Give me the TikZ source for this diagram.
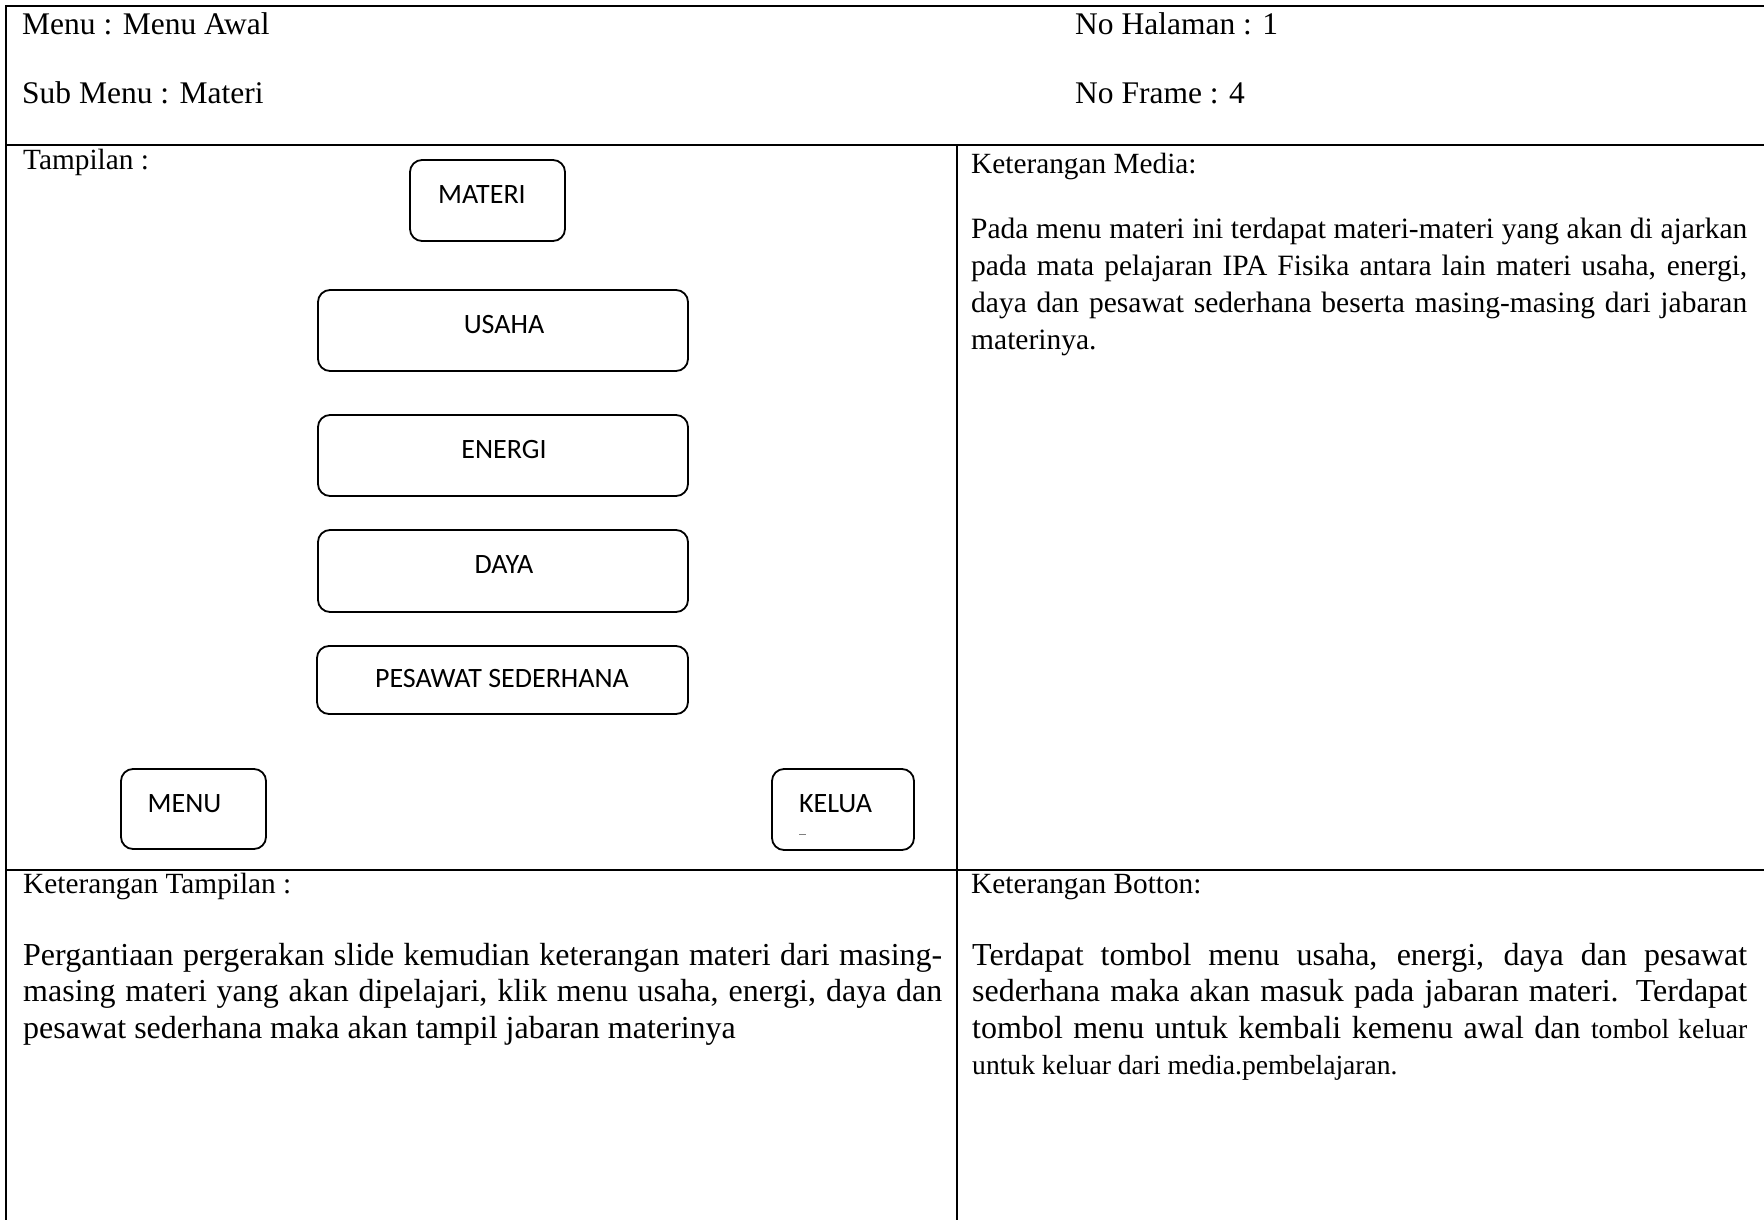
\documentclass[tikz,border=0pt]{standalone}
\usepackage{fontspec}
\setmainfont{Liberation Serif}
\newfontfamily\btnfont{Carlito}
\begin{document}
\begin{tikzpicture}[x=1pt,y=-1pt,
  frame/.style={line width=2.2pt,black},
  btnbox/.style={draw,line width=1.8pt,rounded corners=12pt,inner sep=0pt,minimum width=#1},
  btntext/.style={anchor=base,inner sep=0pt,font=\btnfont\fontsize{28}{34}\selectfont},
  head/.style={anchor=base west,inner sep=0pt,font=\fontsize{31.5}{36}\selectfont},
  label/.style={anchor=base west,inner sep=0pt,font=\fontsize{29.3}{36}\selectfont},
  body/.style={anchor=base west,inner sep=0pt,font=\fontsize{29.5}{36}\selectfont},
  bigbody/.style={anchor=base west,inner sep=0pt,font=\fontsize{32}{37}\selectfont}]
\useasboundingbox (0,0) rectangle (1764,1220);
\fill[white] (0,0) rectangle (1764,1220);

% table rules
\draw[frame] (6,1222) -- (6,6) -- (1766,6);
\draw[frame] (6,145) -- (1766,145);
\draw[frame] (6,870) -- (1766,870);
\draw[frame] (957,145) -- (957,1222);

% header
\node[head] (menu) at (22,35) {Menu : Menu Awal};
\node[head] (submenu) at (22,104) {Sub Menu : Materi};
\node[head] (hal) at (1075,35) {No Halaman : 1};
\node[head] (frameno) at (1075,104) {No Frame : 4};

% screen layout
\node[label] (tampilan) at (23,169) {Tampilan :};

\node[btnbox=155pt,minimum height=81pt] (bmateri) at (487.5,200.5) {};
\node[btnbox=370pt,minimum height=81pt] (busaha) at (503,330.5) {};
\node[btnbox=370pt,minimum height=81pt] (benergi) at (503,455.5) {};
\node[btnbox=370pt,minimum height=82pt] (bdaya) at (503,571) {};
\node[btnbox=371pt,minimum height=68pt] (bpesawat) at (502.5,680) {};
\node[btnbox=145pt,minimum height=80pt] (bmenu) at (193.5,809) {};
\node[btnbox=142pt,minimum height=81pt] (bkeluar) at (843,809.5) {};

\node[btntext] (tmateri) at (482,203) {MATERI};
\node[btntext] (tusaha) at (504,333) {USAHA};
\node[btntext] (tenergi) at (504,458) {ENERGI};
\node[btntext] (tdaya) at (504,573) {DAYA};
\node[btntext] (tpesawat) at (502,687) {PESAWAT SEDERHANA};
\node[btntext] (tmenu) at (184.5,812) {MENU};
\node[btntext] (tkeluar) at (835.5,812) {KELUA};
\draw[gray,line width=1pt] (799,834) -- (806,834);

% media description
\node[label] (kmedia) at (971,173) {Keterangan Media:};
\node[body] (media1) at (971,238) {\makebox[776pt][s]{Pada menu materi ini terdapat materi-materi yang akan di ajarkan}};
\node[body] (media2) at (971,275) {\makebox[776pt][s]{pada mata pelajaran IPA Fisika antara lain materi usaha, energi,}};
\node[body] (media3) at (971,312) {\makebox[776pt][s]{daya dan pesawat sederhana beserta masing-masing dari jabaran}};
\node[body] (media4) at (971,349) {materinya.};

% layout description
\node[label] (ktampilan) at (23,893) {Keterangan Tampilan :};
\node[bigbody] (tamp1) at (23,965) {\makebox[919pt][s]{Pergantiaan pergerakan slide kemudian keterangan materi dari masing-}};
\node[bigbody] (tamp2) at (23,1001.5) {\makebox[919pt][s]{masing materi yang akan dipelajari, klik menu usaha, energi, daya dan}};
\node[bigbody] (tamp3) at (23,1038) {pesawat sederhana maka akan tampil jabaran materinya};

% button description
\node[label] (kbotton) at (971,893) {Keterangan Botton:};
\node[bigbody] (bot1) at (972,965) {\makebox[775pt][s]{Terdapat tombol menu usaha, energi, daya dan pesawat}};
\node[bigbody] (bot2) at (972,1001.5) {\makebox[775pt][s]{sederhana maka akan masuk pada jabaran materi. Terdapat}};
\node[bigbody] (bot3) at (972,1038) {\makebox[775pt][s]{tombol menu untuk kembali kemenu awal dan {\fontsize{27.6}{33}\selectfont tombol keluar}}};
\node[anchor=base west,inner sep=0pt,font=\fontsize{27.6}{33}\selectfont] (bot4) at (972,1074.5) {untuk keluar dari media.pembelajaran.};
\end{tikzpicture}
\end{document}
